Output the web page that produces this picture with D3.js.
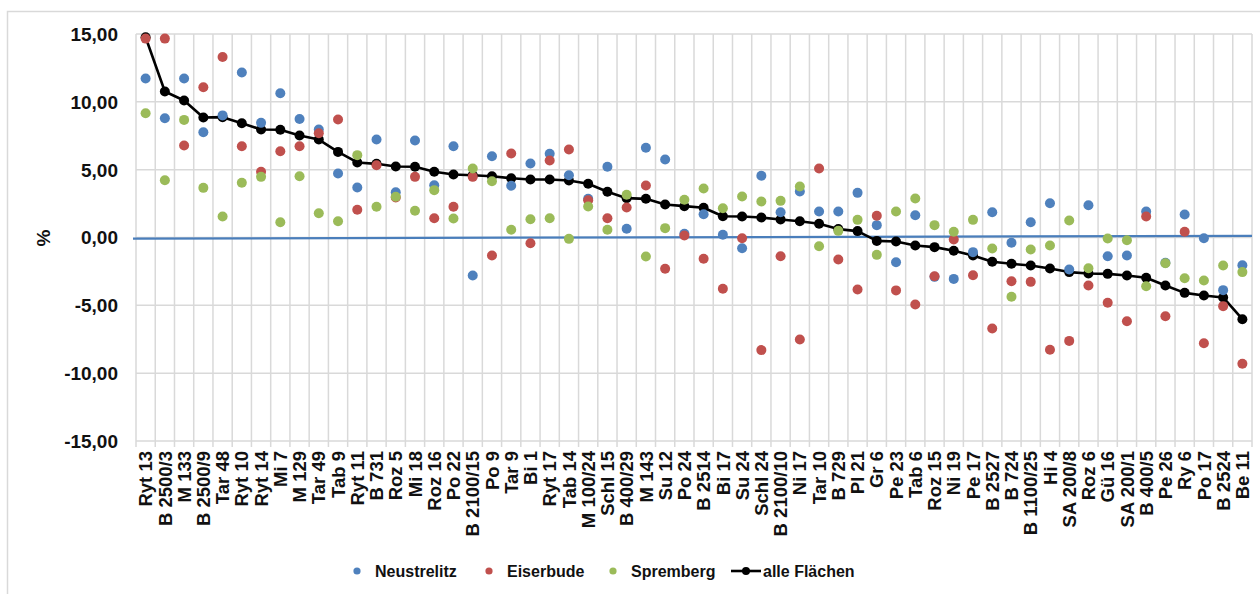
<!DOCTYPE html>
<html>
<head>
<meta charset="utf-8">
<script src="https://cdn.jsdelivr.net/npm/d3@7"></script>
<style>
  html, body { margin: 0; padding: 0; background: #fff; }
  svg { display: block; font-family: "Liberation Sans", Arial, sans-serif; }
</style>
</head>
<body>
<svg id="chart" width="1260" height="594"></svg>
<script>
const categories = ["Ryt 13","B 2500/3","M 133","B 2500/9","Tar 48","Ryt 10","Ryt 14","Mi 7","M 129","Tar 49",
  "Tab 9","Ryt 11","B 731","Roz 5","Mi 18","Roz 16","Po 22","B 2100/15","Po 9","Tar 9",
  "Bi 1","Ryt 17","Tab 14","M 100/24","Schl 15","B 400/29","M 143","Su 12","Po 24","B 2514",
  "Bi 17","Su 24","Schl 24","B 2100/10","Ni 17","Tar 10","B 729","Pl 21","Gr 6","Pe 23",
  "Tab 6","Roz 15","Ni 19","Pe 17","B 2527","B 724","B 1100/25","Hi 4","SA 200/8","Roz 6",
  "Gü 16","SA 200/1","B 400/5","Pe 26","Ry 6","Po 17","B 2524","Be 11"];

const neustrelitz = [11.72,8.79,11.72,7.76,9.00,12.16,8.45,10.63,8.74,7.96,
  4.72,3.68,7.22,3.34,7.15,3.85,6.73,-2.80,5.99,3.81,
  5.45,6.17,4.59,2.85,5.21,0.64,6.61,5.75,0.27,1.72,
  0.20,-0.79,4.55,1.86,3.39,1.92,1.92,3.29,0.91,-1.82,
  1.64,-2.90,-3.05,-1.08,1.86,-0.39,1.13,2.53,-2.36,2.38,
  -1.38,-1.33,1.92,-1.87,1.69,-0.05,-3.88,-2.04];

const eiserbude = [14.66,14.66,6.78,11.08,13.31,6.73,4.84,6.36,6.73,7.69,
  8.70,2.04,5.33,2.95,4.47,1.42,2.26,4.47,-1.33,6.19,
  -0.42,5.67,6.48,2.75,1.42,2.21,3.83,-2.31,0.15,-1.57,
  -3.78,-0.05,-8.30,-1.38,-7.52,5.08,-1.62,-3.83,1.60,-3.90,
  -4.94,-2.85,-0.15,-2.78,-6.71,-3.22,-3.27,-8.28,-7.62,-3.54,
  -4.81,-6.17,1.55,-5.80,0.42,-7.79,-5.06,-9.31];

const spremberg = [9.16,4.22,8.67,3.66,1.55,4.03,4.47,1.13,4.52,1.79,
  1.20,6.07,2.26,3.00,1.97,3.49,1.40,5.08,4.15,0.57,
  1.35,1.42,-0.10,2.28,0.57,3.15,-1.40,0.69,2.78,3.61,
  2.16,3.02,2.65,2.70,3.76,-0.64,0.49,1.30,-1.28,1.92,
  2.87,0.91,0.42,1.30,-0.81,-4.37,-0.88,-0.59,1.25,-2.26,
  -0.07,-0.20,-3.59,-1.90,-3.00,-3.17,-2.06,-2.55];

const alleFlaechen = [14.76,10.76,10.10,8.84,8.87,8.42,7.96,7.94,7.52,7.22,
  6.31,5.53,5.43,5.23,5.21,4.84,4.64,4.59,4.52,4.37,
  4.27,4.27,4.20,3.96,3.37,2.90,2.85,2.43,2.31,2.19,
  1.57,1.55,1.47,1.33,1.20,1.01,0.62,0.47,-0.25,-0.30,
  -0.59,-0.71,-0.98,-1.33,-1.79,-1.94,-2.06,-2.28,-2.55,-2.65,
  -2.68,-2.80,-2.97,-3.54,-4.08,-4.27,-4.42,-6.02];

const yTicks = [-15,-10,-5,0,5,10,15];
const zeroLineValues = [-0.08, 0.12];

const seriesNames = ["Neustrelitz","Eiserbude","Spremberg","alle Flächen"];
const colors = ["#4F81BD","#C0504D","#9BBB59","#000000"];

const svg = d3.select("#chart");
const plotLeft = 136, plotRight = 1252, plotTop = 34, plotBottom = 441;

// outer chart border (bottom and right edges lie outside the picture)
svg.append("rect").attr("x", 7.5).attr("y", 11.5).attr("width", 1300).attr("height", 700)
  .attr("fill", "none").attr("stroke", "#d9d9d9").attr("stroke-width", 1.5);

const x = d3.scaleBand().domain(categories).range([plotLeft, plotRight]).padding(0);
const y = d3.scaleLinear().domain([-15, 15]).range([plotBottom, plotTop]);
const cx = c => x(c) + x.bandwidth() / 2;

// horizontal gridlines
svg.append("g").selectAll("line").data(yTicks).join("line")
  .attr("x1", plotLeft).attr("x2", plotRight)
  .attr("y1", d => y(d)).attr("y2", d => y(d))
  .attr("stroke", "#d9d9d9").attr("stroke-width", 1.5);

// vertical gridlines at category boundaries (with tick extension below)
const bounds = categories.map(c => x(c)).concat([plotRight]);
svg.append("g").selectAll("line").data(bounds).join("line")
  .attr("x1", d => d).attr("x2", d => d)
  .attr("y1", plotTop).attr("y2", plotBottom + 6)
  .attr("stroke", "#d9d9d9").attr("stroke-width", 1.5);

// zero line (blue)
const xLine = d3.scaleLinear().domain([0, 1]).range([133, plotRight]);
svg.append("line")
  .attr("x1", xLine(0)).attr("x2", xLine(1))
  .attr("y1", y(zeroLineValues[0])).attr("y2", y(zeroLineValues[1]))
  .attr("stroke", "#4a7ebb").attr("stroke-width", 2.2);

// y tick labels
svg.append("g").selectAll("text").data(yTicks).join("text")
  .attr("x", 118).attr("y", d => y(d)).attr("dy", "0.36em")
  .attr("text-anchor", "end").attr("font-size", 19).attr("font-weight", "bold").attr("fill", "#111")
  .text(d => d.toFixed(2).replace(".", ","));

// y axis title
svg.append("text").attr("transform", `translate(${50},${238}) rotate(-90)`)
  .attr("text-anchor", "middle").attr("font-size", 19).attr("font-weight", "bold").attr("fill", "#111")
  .text("%");

// x labels
svg.append("g").selectAll("text").data(categories).join("text")
  .attr("transform", d => `translate(${cx(d)},${451}) rotate(-90)`)
  .attr("dy", "0.36em").attr("text-anchor", "end")
  .attr("font-size", 18.5).attr("font-weight", "bold").attr("fill", "#111")
  .text(d => d);

// line series first
const line = d3.line().x((d, i) => cx(categories[i])).y(d => y(d));
svg.append("path").datum(alleFlaechen).attr("d", line)
  .attr("fill", "none").attr("stroke", "#000").attr("stroke-width", 2.6).attr("stroke-linejoin", "round");
svg.append("g").selectAll("circle").data(alleFlaechen).join("circle")
  .attr("cx", (d, i) => cx(categories[i])).attr("cy", d => y(d)).attr("r", 5).attr("fill", "#000");

// scatter series on top
[neustrelitz, eiserbude, spremberg].forEach((arr, k) => {
  svg.append("g").selectAll("circle").data(arr).join("circle")
    .attr("cx", (d, i) => cx(categories[i])).attr("cy", d => y(d)).attr("r", 5)
    .attr("fill", colors[k]);
});

// legend
const legend = svg.append("g").attr("font-size", 16).attr("font-weight", "bold").attr("fill", "#111");
const legendItems = [
  {dot: 357, text: 375},
  {dot: 489, text: 507},
  {dot: 613, text: 631},
  {dot: 746, text: 763}
];
const ly = 571;
legendItems.forEach((it, k) => {
  if (k === 3) {
    legend.append("line").attr("x1", 731).attr("x2", 761).attr("y1", ly).attr("y2", ly)
      .attr("stroke", "#000").attr("stroke-width", 2.6);
    legend.append("circle").attr("cx", it.dot).attr("cy", ly).attr("r", 4).attr("fill", "#000");
  } else {
    legend.append("circle").attr("cx", it.dot).attr("cy", ly).attr("r", 3.6).attr("fill", colors[k]);
  }
  legend.append("text").attr("x", it.text).attr("y", ly).attr("dy", "0.36em").text(seriesNames[k]);
});
</script>
</body>
</html>
